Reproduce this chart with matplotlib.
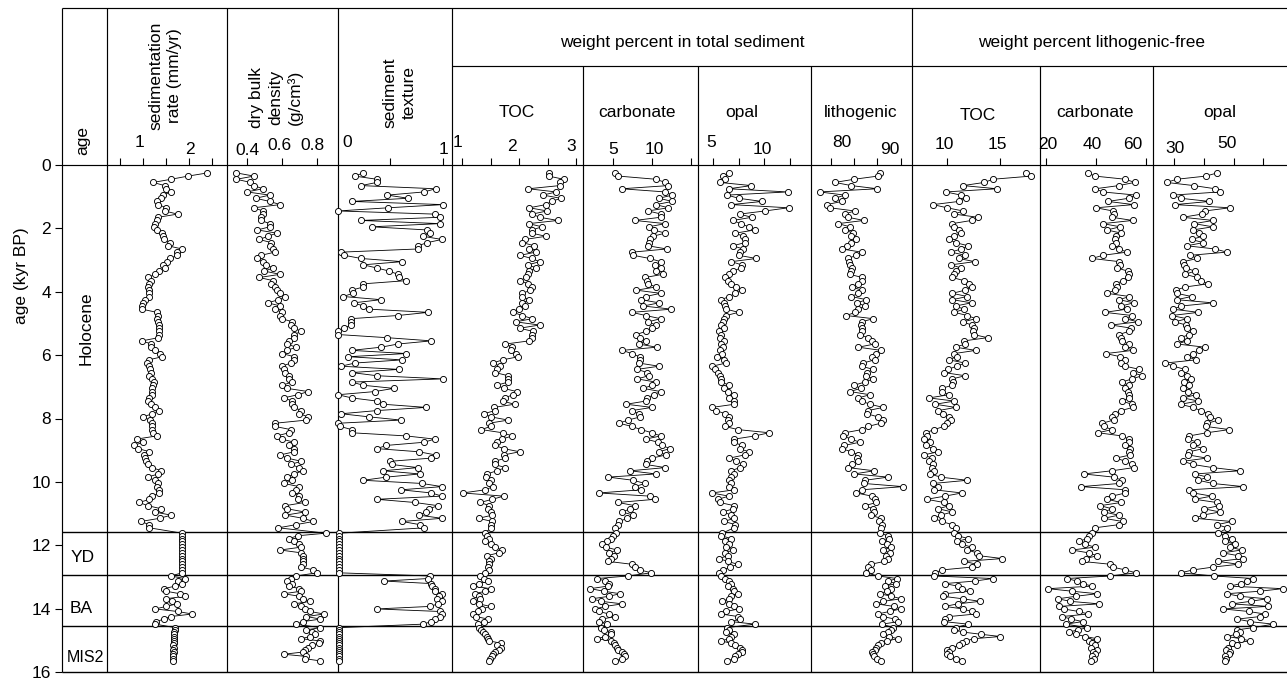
import matplotlib
matplotlib.use("Agg")
import matplotlib.pyplot as plt

plt.rcParams['font.family'] = ['Liberation Sans', 'DejaVu Sans']

# ---------------- data ----------------
AGE_KYR = [
    0.25, 0.35, 0.45, 0.55, 0.65, 0.75, 0.85, 0.95, 1.05, 1.15,
    1.25, 1.35, 1.45, 1.55, 1.65, 1.75, 1.85, 1.95, 2.05, 2.15,
    2.25, 2.35, 2.45, 2.55, 2.65, 2.75, 2.85, 2.95, 3.05, 3.15,
    3.25, 3.35, 3.45, 3.55, 3.65, 3.75, 3.85, 3.95, 4.05, 4.15,
    4.25, 4.35, 4.45, 4.55, 4.65, 4.75, 4.85, 4.95, 5.05, 5.15,
    5.25, 5.35, 5.45, 5.55, 5.65, 5.75, 5.85, 5.95, 6.05, 6.15,
    6.25, 6.35, 6.45, 6.55, 6.65, 6.75, 6.85, 6.95, 7.05, 7.15,
    7.25, 7.35, 7.45, 7.55, 7.65, 7.75, 7.85, 7.95, 8.05, 8.15,
    8.25, 8.35, 8.45, 8.55, 8.65, 8.75, 8.85, 8.95, 9.05, 9.15,
    9.25, 9.35, 9.45, 9.55, 9.65, 9.75, 9.85, 9.95, 10.05, 10.15,
    10.25, 10.35, 10.45, 10.55, 10.65, 10.75, 10.85, 10.95, 11.05, 11.15,
    11.25, 11.35, 11.45,
    # YD
    11.62, 11.70, 11.79, 11.88, 11.97, 12.06, 12.15, 12.24, 12.33, 12.42,
    12.51, 12.60, 12.69, 12.78, 12.87,
    # BA
    12.97, 13.05, 13.13, 13.21, 13.29, 13.37, 13.45, 13.53, 13.61, 13.69,
    13.77, 13.85, 13.93, 14.01, 14.09, 14.17, 14.25, 14.33, 14.41, 14.49,
    # MIS2
    14.60, 14.67, 14.74, 14.81, 14.88, 14.95, 15.02, 15.09, 15.16, 15.23,
    15.30, 15.37, 15.44, 15.51, 15.58, 15.65,
]

SED_RATE = [
    2.40, 1.98, 1.61, 1.22, 1.47, 1.51, 1.61, 1.43, 1.40, 1.30,
    1.33, 1.51, 1.47, 1.75, 1.33, 1.30, 1.25, 1.23, 1.30, 1.41,
    1.43, 1.45, 1.59, 1.54, 1.85, 1.74, 1.74, 1.59, 1.52, 1.43,
    1.47, 1.35, 1.27, 1.10, 1.18, 1.12, 1.10, 1.14, 1.14, 1.14,
    1.05, 1.01, 0.98, 0.98, 1.30, 1.33, 1.30, 1.33, 1.35, 1.35,
    1.35, 1.35, 1.33, 0.98, 1.18, 1.18, 1.25, 1.36, 1.42, 1.12,
    1.09, 1.14, 1.16, 1.18, 1.14, 1.20, 1.23, 1.22, 1.20, 1.20,
    1.20, 1.12, 1.10, 1.18, 1.25, 1.35, 1.20, 1.00, 1.15, 1.20,
    1.20, 1.20, 1.22, 1.30, 0.86, 1.00, 0.80, 0.90, 1.14, 1.03,
    1.05, 1.07, 1.10, 1.20, 1.40, 1.33, 1.10, 1.25, 1.33, 1.30,
    1.35, 1.35, 1.20, 1.14, 0.92, 1.10, 1.40, 1.25, 1.61, 1.36,
    0.95, 1.14, 1.14,
    1.85, 1.84, 1.85, 1.84, 1.85, 1.85, 1.84, 1.85, 1.84, 1.85,
    1.85, 1.84, 1.85, 1.84, 1.85,
    1.60, 1.91, 1.77, 1.85, 1.70, 1.45, 1.50, 1.80, 1.92, 1.49,
    1.64, 1.74, 1.51, 1.27, 1.75, 2.07, 1.60, 1.45, 1.29, 1.27,
    1.70, 1.69, 1.68, 1.68, 1.67, 1.68, 1.67, 1.67, 1.66, 1.67,
    1.66, 1.67, 1.65, 1.66, 1.66, 1.66,
]

DRY_BULK_DENSITY = [
    0.34, 0.44, 0.34, 0.42, 0.44, 0.49, 0.40, 0.53, 0.45, 0.53,
    0.59, 0.44, 0.49, 0.49, 0.48, 0.48, 0.53, 0.53, 0.46, 0.57,
    0.52, 0.47, 0.54, 0.53, 0.55, 0.56, 0.48, 0.46, 0.49, 0.51,
    0.55, 0.50, 0.59, 0.47, 0.55, 0.54, 0.56, 0.57, 0.59, 0.62,
    0.58, 0.52, 0.59, 0.56, 0.60, 0.59, 0.60, 0.66, 0.65, 0.67,
    0.71, 0.67, 0.67, 0.64, 0.63, 0.68, 0.63, 0.60, 0.67, 0.67,
    0.65, 0.60, 0.61, 0.62, 0.64, 0.64, 0.66, 0.60, 0.63, 0.75,
    0.69, 0.61, 0.66, 0.66, 0.67, 0.71, 0.70, 0.75, 0.74, 0.56,
    0.56, 0.65, 0.64, 0.57, 0.60, 0.67, 0.64, 0.67, 0.67, 0.59,
    0.63, 0.71, 0.65, 0.70, 0.72, 0.67, 0.63, 0.66, 0.61, 0.70,
    0.68, 0.66, 0.70, 0.69, 0.73, 0.62, 0.63, 0.73, 0.62, 0.72,
    0.78, 0.68, 0.58,
    0.85, 0.69, 0.64, 0.67, 0.70, 0.71, 0.59, 0.71, 0.72, 0.72,
    0.72, 0.72, 0.71, 0.78, 0.80,
    0.68, 0.65, 0.63, 0.66, 0.64, 0.70, 0.71, 0.61, 0.70, 0.72,
    0.76, 0.67, 0.71, 0.73, 0.76, 0.84, 0.74, 0.82, 0.72, 0.68,
    0.82, 0.74, 0.77, 0.79, 0.76, 0.71, 0.82, 0.81, 0.77, 0.75,
    0.73, 0.72, 0.61, 0.74, 0.73, 0.82,
]

TEXTURE = [
    0.24, 0.16, 0.37, 0.37, 0.22, 0.93, 0.82, 0.47, 0.67, 0.13,
    1.00, 0.48, 0.00, 0.92, 0.97, 0.22, 0.97, 0.32, 0.85, 0.88,
    0.81, 0.99, 0.85, 0.76, 0.76, 0.03, 0.06, 0.22, 0.61, 0.24,
    0.37, 0.49, 0.57, 0.58, 0.65, 0.24, 0.24, 0.13, 0.14, 0.05,
    0.41, 0.15, 0.24, 0.30, 0.86, 0.57, 0.12, 0.12, 0.12, 0.06,
    0.00, 0.00, 0.47, 0.89, 0.57, 0.41, 0.13, 0.65, 0.10, 0.61,
    0.16, 0.03, 0.58, 0.13, 0.37, 1.00, 0.13, 0.24, 0.53, 0.35,
    0.00, 0.13, 0.37, 0.43, 0.84, 0.37, 0.03, 0.30, 0.60, 0.00,
    0.02, 0.13, 0.13, 0.65, 0.92, 0.82, 0.46, 0.37, 0.77, 0.93,
    0.89, 0.50, 0.51, 0.76, 0.43, 0.78, 0.46, 0.24, 0.80, 0.99,
    0.60, 0.89, 0.99, 0.37, 0.73, 0.95, 0.87, 0.84, 0.77, 0.99,
    0.61, 0.78, 0.82,
    0.01, 0.01, 0.01, 0.01, 0.01, 0.01, 0.01, 0.01, 0.01, 0.01,
    0.01, 0.01, 0.01, 0.01, 0.01,
    0.88, 0.86, 0.44, 0.89, 0.90, 0.92, 0.92, 0.99, 0.96, 0.94,
    0.99, 0.95, 0.88, 0.37, 0.97, 0.99, 0.97, 0.92, 0.89, 0.81,
    0.01, 0.01, 0.01, 0.01, 0.01, 0.01, 0.01, 0.01, 0.01, 0.01,
    0.01, 0.01, 0.01, 0.01, 0.01, 0.01,
]

TOC = [
    2.52, 2.52, 2.78, 2.71, 2.71, 2.16, 2.65, 2.42, 2.73, 2.57,
    2.47, 2.18, 2.49, 2.23, 2.36, 2.68, 2.17, 2.40, 2.23, 2.22,
    2.47, 2.10, 2.06, 2.27, 2.18, 2.29, 2.02, 2.22, 2.36, 2.16,
    2.30, 2.17, 2.16, 2.12, 2.02, 2.16, 2.23, 2.20, 2.06, 2.05,
    2.18, 2.06, 2.11, 2.00, 1.89, 2.06, 2.23, 1.94, 2.36, 2.01,
    2.24, 2.22, 2.23, 2.18, 1.76, 1.88, 1.85, 1.94, 1.99, 1.71,
    1.54, 1.67, 1.61, 1.58, 1.81, 1.81, 1.81, 1.61, 1.73, 1.96,
    1.89, 1.75, 1.71, 1.92, 1.56, 1.58, 1.38, 1.51, 1.81, 1.47,
    1.50, 1.34, 1.71, 1.88, 1.70, 1.61, 1.58, 1.73, 2.01, 1.73,
    1.76, 1.58, 1.57, 1.76, 1.61, 1.44, 1.42, 1.51, 1.48, 1.54,
    1.41, 1.01, 1.73, 1.53, 1.32, 1.48, 1.46, 1.51, 1.53, 1.29,
    1.53, 1.51, 1.51,
    1.40, 1.44, 1.47, 1.41, 1.50, 1.57, 1.70, 1.64, 1.44, 1.51,
    1.47, 1.48, 1.46, 1.47, 1.41,
    1.32, 1.38, 1.46, 1.29, 1.20, 1.50, 1.41, 1.22, 1.30, 1.32,
    1.20, 1.29, 1.50, 1.35, 1.28, 1.20, 1.24, 1.46, 1.38, 1.28,
    1.30, 1.33, 1.36, 1.41, 1.44, 1.46, 1.48, 1.68, 1.62, 1.69,
    1.64, 1.58, 1.55, 1.52, 1.49, 1.47,
]

CARBONATE = [
    5.3, 5.7, 10.5, 11.7, 12.1, 6.1, 11.7, 12.6, 10.9, 12.6,
    10.5, 12.1, 9.5, 11.2, 11.1, 7.8, 11.7, 9.6, 10.2, 11.7,
    10.1, 9.8, 9.6, 9.5, 11.9, 7.5, 7.6, 9.7, 11.1, 10.4,
    11.1, 10.5, 11.4, 9.1, 9.4, 9.5, 10.5, 8.0, 11.1, 9.2,
    8.6, 10.9, 8.9, 12.5, 7.4, 9.2, 11.1, 9.5, 10.5, 10.0,
    9.2, 8.0, 8.5, 9.2, 8.3, 10.6, 6.2, 7.4, 8.4, 8.5,
    8.3, 10.9, 8.1, 9.4, 9.6, 8.1, 10.5, 10.0, 8.9, 11.1,
    10.2, 9.4, 9.2, 6.7, 10.0, 7.4, 8.3, 8.5, 6.9, 5.8,
    7.4, 8.6, 10.0, 11.1, 9.2, 10.8, 11.3, 12.3, 10.9, 11.8,
    10.0, 9.4, 9.2, 11.7, 7.2, 10.5, 4.4, 7.6, 9.1, 7.8,
    8.6, 3.2, 9.7, 10.4, 5.6, 7.8, 7.2, 6.2, 7.6, 6.8,
    5.8, 5.6, 5.3,
    5.4, 5.0, 4.7, 4.2, 3.6, 4.1, 5.5, 4.5, 5.1, 4.8,
    4.4, 7.4, 7.8, 8.5, 9.9,
    6.9, 3.0, 4.0, 4.5, 4.3, 2.1, 3.8, 5.9, 4.5, 2.3,
    3.5, 6.2, 4.0, 2.7, 3.2, 4.5, 5.3, 3.6, 3.2, 4.2,
    3.4, 3.8, 4.8, 4.7, 4.0, 3.0, 4.8, 5.1, 5.3, 5.5,
    5.7, 6.2, 6.4, 6.6, 6.2, 5.3,
]

OPAL = [
    6.54, 5.98, 6.15, 5.65, 8.76, 6.54, 12.3, 6.4, 7.5, 9.8,
    6.8, 12.4, 10.1, 7.6, 8.8, 6.96, 7.7, 8.5, 9.1, 7.2,
    7.94, 8.1, 8.1, 6.96, 7.94, 7.6, 7.5, 9.25, 6.8, 7.8,
    7.7, 6.96, 6.6, 6.2, 6.47, 6.8, 7.3, 7.84, 7.2, 6.6,
    5.8, 6.1, 6.15, 6.3, 7.5, 6.3, 6.1, 5.98, 5.8, 6.1,
    5.55, 5.8, 5.65, 6.1, 5.8, 5.98, 5.65, 5.9, 5.4, 6.1,
    6.3, 4.9, 5.2, 5.5, 5.65, 5.75, 5.8, 6.6, 6.1, 6.47,
    7.06, 6.6, 7.1, 7.1, 4.9, 5.3, 6.2, 6.54, 6.47, 6.54,
    6.15, 7.45, 10.5, 9.1, 7.1, 7.06, 7.8, 7.6, 8.5, 8.1,
    6.6, 7.3, 7.94, 7.6, 6.8, 7.1, 6.8, 6.54, 6.8, 6.6,
    7.1, 4.9, 6.54, 5.5, 5.65, 7.06, 6.96, 5.98, 6.8, 7.06,
    6.1, 7.2, 7.06,
    5.9, 5.8, 6.8, 6.15, 6.6, 6.3, 6.96, 6.2, 6.5, 5.55,
    6.47, 7.4, 6.7, 5.98, 5.55,
    5.8, 6.15, 6.54, 6.8, 6.5, 6.96, 7.1, 7.45, 6.8, 6.6,
    5.9, 6.54, 7.1, 7.5, 6.3, 5.8, 7.45, 7.6, 6.8, 9.1,
    6.4, 6.6, 6.3, 7.1, 6.8, 6.6, 5.75, 6.8, 7.2, 7.6,
    7.8, 7.84, 7.45, 7.2, 7.06, 6.4,
]

LITHOGENIC = [
    85.5, 85.1, 80.0, 75.9, 79.4, 85.0, 72.6, 78.0, 75.9, 77.4,
    74.1, 74.8, 80.1, 78.0, 78.7, 82.1, 76.6, 79.1, 78.0, 79.8,
    79.3, 80.5, 79.4, 78.5, 77.4, 81.6, 80.5, 78.7, 79.0, 79.1,
    79.6, 79.3, 79.1, 81.7, 81.6, 80.9, 79.6, 81.6, 80.9, 79.4,
    82.6, 80.7, 82.3, 80.9, 80.3, 78.3, 84.1, 81.6, 81.4, 81.6,
    81.6, 81.2, 83.0, 83.8, 84.4, 80.9, 85.8, 84.8, 83.8, 84.4,
    81.9, 81.6, 84.1, 82.8, 82.6, 84.1, 82.3, 80.0, 81.4, 79.1,
    83.4, 80.9, 81.6, 83.4, 86.2, 83.0, 82.8, 85.1, 86.2, 85.7,
    83.0, 81.7, 78.0, 77.6, 79.4, 81.2, 77.9, 77.4, 79.4, 80.9,
    80.7, 80.9, 79.5, 78.7, 84.3, 80.0, 87.3, 82.3, 82.1, 90.5,
    81.6, 80.5, 83.8, 84.4, 84.8, 82.3, 84.1, 84.3, 83.6, 85.7,
    85.3, 86.0, 85.8,
    85.5, 87.3, 87.4, 86.0, 87.1, 88.0, 86.2, 87.6, 86.9, 87.3,
    86.5, 83.6, 83.0, 83.7, 82.6,
    85.1, 89.2, 87.3, 89.0, 86.6, 88.0, 87.0, 85.5, 88.0, 90.1,
    86.2, 84.8, 88.5, 90.0, 87.6, 85.1, 86.2, 88.7, 89.5, 86.0,
    88.4, 87.8, 87.3, 86.2, 87.5, 89.3, 87.0, 85.8, 85.1, 84.8,
    84.4, 83.8, 84.0, 84.3, 85.0, 85.8,
]

TOC_LF = [
    17.4, 17.9, 14.3, 13.5, 11.5, 14.7, 9.9, 11.3, 11.8, 11.1,
    8.7, 10.0, 11.5, 10.7, 12.9, 12.3, 10.5, 10.7, 11.1, 11.3,
    10.7, 10.2, 10.8, 12.0, 11.3, 10.4, 11.7, 11.1, 12.6, 10.4,
    11.3, 10.8, 10.7, 10.5, 11.6, 12.1, 12.3, 11.7, 10.5, 11.9,
    10.5, 12.3, 10.8, 11.6, 10.7, 11.9, 12.7, 11.5, 12.3, 12.5,
    12.4, 12.5, 13.8, 11.6, 11.7, 10.8, 12.7, 10.7, 10.9, 10.2,
    11.7, 10.9, 10.1, 9.7, 11.7, 10.5, 10.6, 10.5, 9.5, 9.5,
    10.2, 8.3, 10.7, 8.9, 10.8, 9.2, 9.6, 10.2, 10.4, 10.0,
    9.7, 8.8, 8.0, 8.1, 7.8, 8.4, 8.0, 8.7, 9.2, 7.8,
    8.6, 8.3, 8.7, 8.6, 8.8, 8.4, 9.4, 11.9, 8.7, 9.2,
    8.8, 11.4, 9.8, 8.1, 9.7, 10.2, 9.2, 10.5, 9.4, 8.8,
    9.5, 10.5, 10.8,
    10.7, 11.0, 12.0, 10.9, 11.4, 12.3, 11.9, 12.8, 13.0, 15.2,
    11.6, 12.8, 12.3, 9.5, 8.9,
    8.8, 14.3, 12.6, 9.8, 11.0, 11.4, 12.2, 9.8, 9.6, 11.5,
    13.1, 11.0, 9.8, 11.5, 12.3, 12.7, 10.2, 9.8, 9.7, 12.0,
    10.8, 10.7, 11.5, 13.2, 15.0, 12.5, 11.8, 11.4, 11.1, 10.5,
    10.0, 10.2, 10.0, 10.3, 10.8, 11.4,
]

CARBONATE_LF = [
    36.9, 39.6, 51.9, 55.6, 49.2, 39.8, 42.8, 56.1, 53.2, 44.9,
    55.2, 40.1, 46.8, 47.2, 46.5, 54.8, 42.8, 49.8, 44.5, 50.2,
    48.1, 47.8, 48.1, 46.5, 49.4, 52.5, 42.8, 38.5, 49.4, 49.8,
    48.5, 52.9, 53.2, 52.9, 50.8, 48.1, 48.5, 47.6, 44.5, 53.5,
    49.4, 55.2, 50.2, 52.5, 43.6, 54.5, 51.9, 56.9, 46.2, 54.3,
    53.2, 49.4, 50.2, 50.5, 53.2, 51.9, 54.8, 44.1, 49.8, 51.9,
    50.2, 51.9, 57.5, 54.8, 58.6, 54.5, 50.5, 53.2, 51.9, 52.9,
    53.2, 53.2, 50.5, 54.5, 54.8, 50.2, 47.8, 46.5, 47.2, 42.5,
    43.2, 46.5, 40.9, 50.5, 53.2, 53.5, 51.6, 53.9, 53.5, 53.9,
    48.1, 51.9, 54.5, 55.2, 46.5, 35.1, 47.2, 50.5, 49.4, 34.2,
    51.9, 51.9, 46.5, 44.5, 50.2, 41.8, 46.5, 43.2, 49.2, 43.2,
    50.8, 49.2, 39.6,
    38.5, 37.4, 36.5, 33.1, 35.8, 39.6, 30.4, 37.1, 40.5, 36.0,
    34.5, 45.8, 46.8, 51.9, 56.1,
    45.8, 28.4, 32.4, 34.7, 38.5, 20.8, 30.4, 40.5, 32.0, 24.8,
    29.8, 41.4, 25.1, 27.1, 33.1, 36.9, 26.4, 30.1, 34.7, 28.0,
    36.5, 33.0, 29.1, 32.0, 35.8, 40.5, 37.1, 38.5, 39.6, 38.2,
    40.5, 39.0, 39.6, 38.5, 39.2, 38.0,
]

OPAL_LF = [
    44.5, 40.7, 30.9, 27.5, 36.7, 43.8, 45.4, 29.6, 32.2, 41.9,
    30.3, 48.8, 40.4, 39.3, 32.9, 43.2, 36.7, 43.0, 36.3, 38.5,
    39.6, 35.9, 39.8, 34.3, 43.8, 47.7, 35.4, 37.8, 33.1, 33.4,
    34.0, 37.0, 33.7, 37.8, 39.0, 41.5, 33.7, 30.7, 30.9, 35.9,
    30.9, 43.0, 32.5, 29.6, 38.2, 29.2, 34.3, 30.3, 34.0, 34.5,
    36.5, 35.1, 32.2, 34.3, 31.1, 40.4, 38.5, 36.3, 34.5, 37.4,
    27.0, 29.8, 33.7, 32.2, 34.5, 35.6, 33.4, 35.1, 32.9, 34.8,
    37.4, 33.1, 38.2, 32.2, 36.3, 39.0, 41.5, 42.1, 44.9, 41.2,
    40.7, 48.6, 41.0, 35.1, 34.8, 37.8, 36.3, 39.8, 35.1, 34.8,
    41.0, 33.1, 36.3, 43.0, 52.1, 37.0, 41.2, 38.2, 43.0, 53.3,
    35.1, 36.5, 42.6, 37.0, 44.3, 45.2, 40.1, 45.4, 39.6, 37.0,
    49.4, 44.5, 47.9,
    44.9, 47.1, 49.4, 47.1, 50.5, 48.8, 52.7, 46.3, 51.6, 53.0,
    44.9, 51.6, 43.0, 36.3, 32.2,
    43.4, 56.6, 54.4, 52.4, 48.8, 66.5, 58.9, 47.7, 52.0, 61.1,
    55.7, 49.4, 61.6, 46.5, 55.0, 60.5, 58.9, 51.2, 55.5, 63.3,
    56.6, 51.2, 52.0, 50.7, 47.9, 52.4, 55.5, 49.6, 51.2, 48.0,
    47.5, 48.8, 48.3, 47.2, 47.5, 47.2,
]

EPOCH_BOUNDS = [11.57, 12.93, 14.55]
EPOCH_NAMES = ["Holocene", "YD", "BA", "MIS2"]
AGE_TICKS = [0, 2, 4, 6, 8, 10, 12, 14, 16]

SED_TICKS = [0.5, 1.0, 1.5, 2.0, 2.5]
DBD_TICKS = [0.4, 0.6, 0.8]
TEX_TICKS = [0.5, 1.0]
TOC_TICKS = [1.0, 1.5, 2.0, 2.5, 3.0]
CARB_TICKS = [5, 10, 15]
OPAL_TICKS = [5, 7.5, 10, 12.5]
LITH_TICKS = [75, 80, 85, 90]
TOCLF_TICKS = [10, 15]
CARBLF_TICKS = [20, 40, 60]
OPALLF_TICKS = [30, 40, 50, 60]

# ---------------- layout ----------------
W, H = 1287, 683
fig = plt.figure(figsize=(W / 100, H / 100), dpi=100)
ov = fig.add_axes([0, 0, 1, 1])
ov.set_xlim(0, W)
ov.set_ylim(H, 0)
ov.axis('off')

Y_TOP, Y0, Y1 = 8, 165, 672   # frame top, age 0, age 16 (pixels)
LW = 0.85
FS = 12.5

def line(xs, ys, lw=LW):
    ov.plot(xs, ys, color='black', lw=lw, solid_capstyle='butt')

# frame
line([62, W], [Y_TOP, Y_TOP])
line([452, W], [66, 66])
line([62, W], [Y0, Y0])
for x in [62, 107, 227, 338, 452, 912]:
    line([x, x], [Y_TOP, Y1])
for x in [583, 698, 811, 1040, 1153]:
    line([x, x], [66, Y1])

# age axis and epoch boundaries
ax_age = fig.add_axes([62 / W, 1 - Y1 / H, (W - 62) / W, (Y1 - Y0) / H])
ax_age.set_xlim(0, 1)
ax_age.set_ylim(16, 0)
ax_age.patch.set_alpha(0)
for s in ax_age.spines.values():
    s.set_visible(False)
ax_age.set_xticks([])
ax_age.set_yticks(AGE_TICKS)
ax_age.set_yticklabels([str(t) for t in AGE_TICKS])
ax_age.tick_params(axis='y', direction='out', length=5, width=0.8,
                   pad=3, labelsize=FS)
ax_age.hlines(EPOCH_BOUNDS + [16], 0, 1, colors='black', lw=1.0, clip_on=False)

# epoch labels
ov.text(86, 328, EPOCH_NAMES[0], rotation=90, ha='center', va='center', fontsize=FS)
ov.text(83, 562, EPOCH_NAMES[1], ha='center', va='baseline', fontsize=FS)
ov.text(81, 613, EPOCH_NAMES[2], ha='center', va='baseline', fontsize=FS)
ov.text(85, 662, EPOCH_NAMES[3], ha='center', va='baseline', fontsize=11.5)
ov.text(22, 276, "age (kyr BP)", rotation=90, ha='center', va='center', fontsize=FS)

# column headers
ov.text(83, 155, "age", rotation=90, ha='center', va='bottom', fontsize=FS)
ov.text(165, 130, "sedimentation\nrate (mm/yr)", rotation=90, ha='center',
        va='bottom', fontsize=FS, linespacing=1.3)
ov.text(276, 128, "dry bulk\ndensity\n(g/cm³)", rotation=90, ha='center',
        va='bottom', fontsize=FS, linespacing=1.35)
ov.text(400, 128, "sediment\ntexture", rotation=90, ha='center',
        va='bottom', fontsize=FS, linespacing=1.35)
ov.text(682, 47, "weight percent in total sediment", ha='center', va='baseline', fontsize=FS)
ov.text(1092, 47, "weight percent lithogenic-free", ha='center', va='baseline', fontsize=FS)
for txt, x, y in [("TOC", 517, 117), ("carbonate", 637, 117), ("opal", 742, 117),
                  ("lithogenic", 861, 117), ("TOC", 978, 120), ("carbonate", 1095, 117),
                  ("opal", 1220, 117)]:
    ov.text(x, y, txt, ha='center', va='baseline', fontsize=FS)

# tick labels (staggered, as in the reference)
TICK_LABELS = [
    ("1", 140, 141), ("2", 190, 148.5),
    ("0.4", 247, 149), ("0.6", 279, 144), ("0.8", 312, 144),
    ("0", 347, 141), ("1", 443, 148),
    ("1", 457, 141), ("2", 512, 145), ("3", 571, 145),
    ("5", 613, 148), ("10", 654, 148),
    ("5", 711, 141), ("10", 762, 148),
    ("80", 842, 141), ("90", 890, 148),
    ("10", 944, 143), ("15", 997, 143),
    ("20", 1048, 143), ("40", 1092, 143), ("60", 1133, 143),
    ("30", 1175, 147), ("50", 1227, 142),
]
for txt, x, yc in TICK_LABELS:
    ov.text(x, yc + 6, txt, ha='center', va='baseline', fontsize=FS)

PANELS = [
    (107, 227, (0.217, 2.826), SED_TICKS, SED_RATE),
    (227, 338, (0.286, 0.92), DBD_TICKS, DRY_BULK_DENSITY),
    (338, 452, (0.0, 1.086), TEX_TICKS, TEXTURE),
    (452, 583, (0.825, 3.12), TOC_TICKS, TOC),
    (583, 698, (1.154, 15.9), CARB_TICKS, CARBONATE),
    (698, 811, (3.53, 14.6), OPAL_TICKS, OPAL),
    (811, 912, (70.78, 92.4), LITH_TICKS, LITHOGENIC),
    (912, 1040, (6.72, 18.72), TOCLF_TICKS, TOC_LF),
    (1040, 1153, (17.59, 62.97), CARBLF_TICKS, CARBONATE_LF),
    (1153, 1287, (22.95, 67.92), OPALLF_TICKS, OPAL_LF),
]

for x0, x1, lim, ticks, vals in PANELS:
    ax = fig.add_axes([x0 / W, 1 - Y1 / H, (x1 - x0) / W, (Y1 - Y0) / H])
    ax.set_xlim(*lim)
    ax.set_ylim(16, 0)
    ax.patch.set_alpha(0)
    for s in ax.spines.values():
        s.set_visible(False)
    ax.set_yticks([])
    ax.xaxis.set_ticks_position('top')
    ax.set_xticks(ticks)
    ax.tick_params(axis='x', direction='out', length=5, width=0.8,
                   labeltop=False, labelbottom=False)
    ax.plot(vals, AGE_KYR, color='black', lw=0.6, marker='o', ms=4.4,
            mfc='white', mec='black', mew=0.65, clip_on=False)

fig.savefig("out.png", dpi=100)
